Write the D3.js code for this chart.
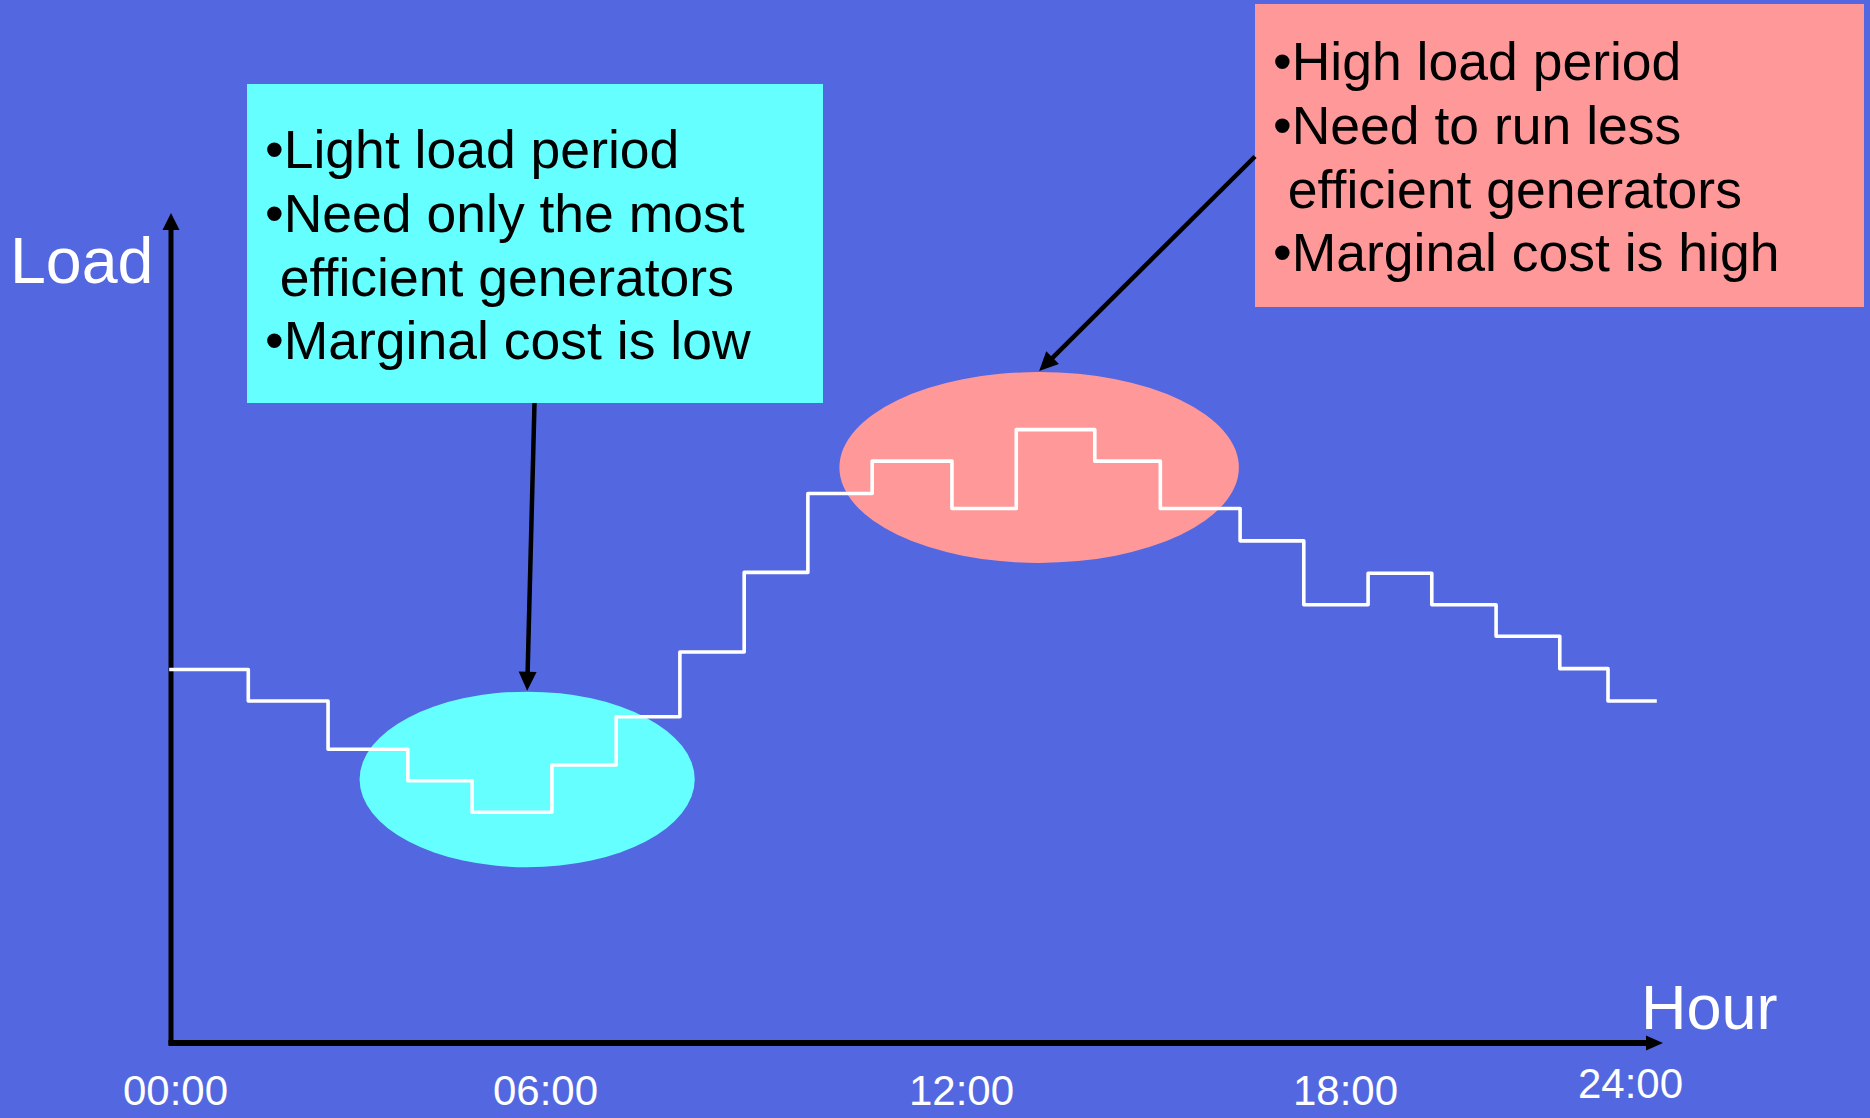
<!DOCTYPE html>
<html>
<head>
<meta charset="utf-8">
<script src="https://cdn.jsdelivr.net/npm/d3@7"></script>
<style>
  html, body { margin: 0; padding: 0; background: #5368E0; }
  svg { display: block; }
  text { font-family: "Liberation Sans", Arial, Helvetica, sans-serif; white-space: pre; }
</style>
</head>
<body>
<svg id="chart" width="1870" height="1118"></svg>
<script>
// Hourly load profile over one day (step changes in hours, load in arbitrary units 0-100)
const stepHours = [0, 1.25, 2.54, 3.83, 4.87, 6.16, 7.2, 8.23, 9.27, 10.3, 11.34, 12.63,
                   13.67, 14.94, 16.0, 17.29, 18.32, 19.36, 20.39, 21.43, 22.46, 23.24];
const stepLoad  = [45.0, 41.2, 35.4, 31.6, 27.8, 33.5, 39.3, 47.1, 56.7, 66.2, 70.1, 64.4,
                   73.9, 70.1, 64.4, 60.5, 52.8, 56.6, 52.8, 49.0, 45.1, 41.2];
const dayEnd = 24;

// Axis tick labels
const tickHours  = [0, 6, 12, 18, 24];
const tickLabels = ["00:00", "06:00", "12:00", "18:00", "24:00"];

// Highlighted periods (centre and half-extent in data units)
const periodNames     = ["light", "high"];
const periodHour      = [5.76, 14.04];
const periodLoad      = [31.75, 69.34];
const periodHalfHours = [2.71, 3.23];
const periodHalfLoad  = [10.58, 11.5];

// Callout notes
const lightNotes = ["•Light load period", "•Need only the most", " efficient generators", "•Marginal cost is low"];
const highNotes  = ["•High load period", "•Need to run less", " efficient generators", "•Marginal cost is high"];

const svg = d3.select("#chart");
const W = 1870, H = 1118;

const x = d3.scaleLinear().domain([0, 24]).range([171, 1655]);
const y = d3.scaleLinear().domain([0, 100]).range([1043, 213]);

const colors = { bg: "#5368E0", light: "#66FFFF", high: "#FF9999", line: "#FFFFFF", ink: "#000000" };

svg.append("rect").attr("width", W).attr("height", H).attr("fill", colors.bg);

// Highlight ellipses
const periods = periodNames.map((n, i) => ({
  name: n, h: periodHour[i], l: periodLoad[i], dh: periodHalfHours[i], dl: periodHalfLoad[i]
}));
svg.append("g").selectAll("ellipse").data(periods).join("ellipse")
  .attr("cx", d => x(d.h))
  .attr("cy", d => y(d.l))
  .attr("rx", d => x(d.h + d.dh) - x(d.h))
  .attr("ry", d => y(d.l) - y(d.l + d.dl))
  .attr("fill", d => colors[d.name]);

// Arrow helper: shaft plus a filled triangular head ending at the tip
function arrow(g, x1, y1, x2, y2, width, headLen, headW) {
  const dx = x2 - x1, dy = y2 - y1, len = Math.hypot(dx, dy);
  const ux = dx / len, uy = dy / len;
  const bx = x2 - ux * headLen, by = y2 - uy * headLen;
  g.append("line")
    .attr("x1", x1).attr("y1", y1)
    .attr("x2", bx + ux * 2).attr("y2", by + uy * 2)
    .attr("stroke", colors.ink).attr("stroke-width", width);
  const px = -uy, py = ux;
  g.append("path")
    .attr("d", `M${x2},${y2}L${bx + px * headW / 2},${by + py * headW / 2}L${bx - px * headW / 2},${by - py * headW / 2}Z`)
    .attr("fill", colors.ink);
}

// Axes drawn as arrows
const axes = svg.append("g");
arrow(axes, x(0), y(0) + 2, x(0), y(100), 5, 17, 17);
arrow(axes, x(0) - 2.5, y(0), x(24) + 8, y(0), 6, 17, 15);

// Step load curve (drawn over the vertical axis)
const pts = stepHours.map((h, i) => [h, stepLoad[i]]);
pts.push([dayEnd, stepLoad[stepLoad.length - 1]]);
const line = d3.line().x(d => x(d[0])).y(d => y(d[1])).curve(d3.curveStepAfter);
svg.append("path").datum(pts)
  .attr("d", line)
  .attr("fill", "none")
  .attr("stroke", colors.line)
  .attr("stroke-width", 3.6)
  .attr("stroke-linecap", "square")
  .attr("stroke-linejoin", "round");

// Tick labels (slightly hand-placed under the axis)
const labelNudge = [[4, 0], [3, 0], [48, 0], [61, 0], [-25, -7]];
const xAxis = d3.axisBottom(x).tickValues(tickHours).tickFormat((d, i) => tickLabels[i]).tickSize(0);
const ax = svg.append("g").attr("transform", "translate(0,1105)").call(xAxis);
ax.select(".domain").remove();
ax.selectAll("text")
  .attr("y", 0).attr("dy", 0)
  .attr("x", (d, i) => labelNudge[i][0])
  .attr("transform", (d, i) => `translate(0,${labelNudge[i][1]})`)
  .attr("fill", colors.line)
  .style("font-size", "42px")
  .style("font-family", '"Liberation Sans", Arial, sans-serif');

// Axis titles
svg.append("text").attr("x", 10).attr("y", 283)
  .attr("fill", colors.line).style("font-size", "64.5px").text("Load");
svg.append("text").attr("x", 1641).attr("y", 1029)
  .attr("fill", colors.line).style("font-size", "63px").text("Hour");

// Callout boxes with pointer arrows to the highlighted periods
const callouts = [
  { name: "light", box: [247, 84, 576, 319], textX: 265, baseY: 168, notes: lightNotes, from: [534.5, 403] },
  { name: "high",  box: [1255, 4, 609, 303], textX: 1273, baseY: 80, notes: highNotes, from: [1255, 156.5] }
];
const lineGap = 63.8;

callouts.forEach((c, i) => {
  const p = periods[i];
  const g = svg.append("g");
  g.append("rect")
    .attr("x", c.box[0]).attr("y", c.box[1])
    .attr("width", c.box[2]).attr("height", c.box[3])
    .attr("fill", colors[c.name]);
  g.selectAll("text").data(c.notes).join("text")
    .attr("x", c.textX)
    .attr("y", (d, k) => c.baseY + k * lineGap)
    .attr("fill", colors.ink)
    .style("font-size", "53.5px")
    .text(d => d);
  arrow(svg, c.from[0], c.from[1], x(p.h), y(p.l + p.dl) - 1, 4.5, 19, 18);
});
</script>
</body>
</html>
